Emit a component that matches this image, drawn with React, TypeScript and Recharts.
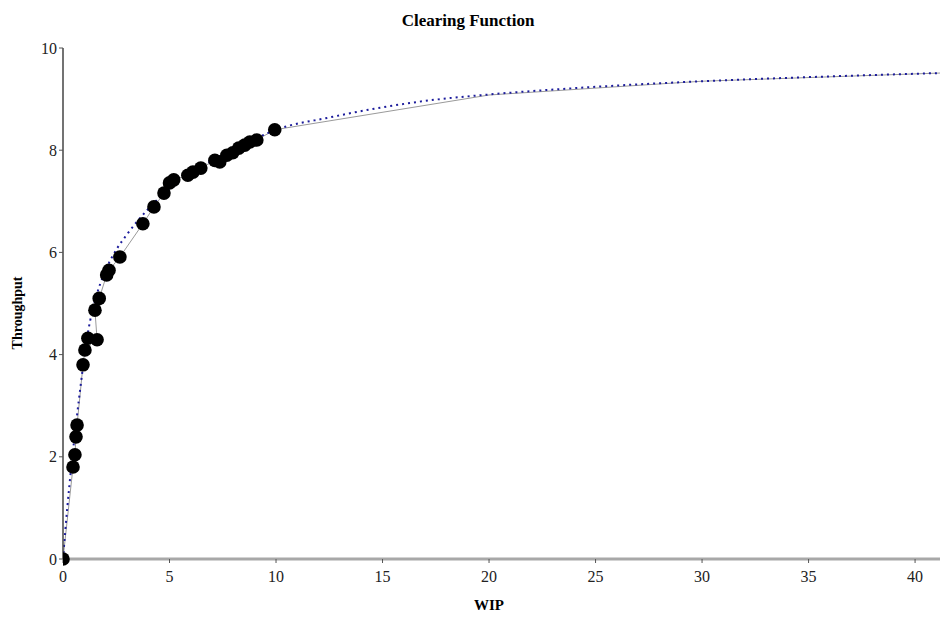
import React from "react";
import { ComposedChart, Line, Scatter, XAxis, YAxis } from "recharts";

// Observed (WIP, Throughput) points
const wip = [0, 0.47, 0.56, 0.61, 0.66, 0.94, 1.03, 1.17, 1.6, 1.5, 1.7, 2.05, 2.16, 2.67, 3.75, 4.27, 4.74, 5.0, 5.2, 5.86, 6.1, 6.47, 7.13, 7.36, 7.69, 7.97, 8.25, 8.53, 8.77, 9.1, 9.94];
const throughput = [0, 1.8, 2.04, 2.39, 2.62, 3.8, 4.09, 4.32, 4.29, 4.87, 5.1, 5.56, 5.65, 5.91, 6.56, 6.89, 7.16, 7.36, 7.42, 7.51, 7.57, 7.65, 7.8, 7.77, 7.9, 7.95, 8.04, 8.1, 8.16, 8.2, 8.4];

// Grey connecting line continues beyond the observed points
const tailWip = [20, 30, 41.17];
const tailThroughput = [9.08, 9.35, 9.51];

// Blue dotted clearing-function curve
const curveWip = [0, 0.2, 0.4, 0.6, 0.8, 1.0, 1.2, 1.5, 2.0, 2.5, 3, 4, 5, 6, 7, 8, 9, 10, 12.5, 15, 17.5, 20, 25, 30, 35, 41.17];
const curveThroughput = [0, 1.0, 1.85, 2.6, 3.3, 3.95, 4.5, 5.05, 5.65, 6.05, 6.35, 6.85, 7.25, 7.55, 7.8, 8.02, 8.22, 8.4, 8.64, 8.84, 8.99, 9.09, 9.24, 9.35, 9.43, 9.51];

const xTicks = [0, 5, 10, 15, 20, 25, 30, 35, 40];
const yTicks = [0, 2, 4, 6, 8, 10];

const observed = wip.map((x, i) => ({ x, y: throughput[i] }));
const greyLine = observed.concat(tailWip.map((x, i) => ({ x, y: tailThroughput[i] })));
const curve = curveWip.map((x, i) => ({ x, y: curveThroughput[i] }));

const FONT = "'Liberation Serif', 'Times New Roman', serif";

const Dot = (props: any) => {
  const { cx, cy } = props;
  return <circle cx={cx} cy={cy} r={6.8} fill="#000" />;
};

export default function App() {
  return (
    <div style={{ position: "absolute", left: 0, top: 0, width: 941, height: 620, background: "#fff" }}>
      <ComposedChart
        width={941}
        height={620}
        margin={{ top: 48, right: 1, bottom: 31, left: 0 }}
        style={{ fontFamily: FONT }}
      >
        <text x={468} y={26} textAnchor="middle" fontFamily={FONT} fontWeight="bold" fontSize={17} fill="#000">
          Clearing Function
        </text>
        <text
          x={22}
          y={313}
          textAnchor="middle"
          fontFamily={FONT}
          fontWeight="bold"
          fontSize={14}
          fill="#000"
          transform="rotate(-90 22 313)"
        >
          Throughput
        </text>
        <text x={489} y={610} textAnchor="middle" fontFamily={FONT} fontWeight="bold" fontSize={15} fill="#000">
          WIP
        </text>
        <XAxis
          type="number"
          dataKey="x"
          domain={[0, 41.17]}
          ticks={xTicks}
          allowDataOverflow
          height={30}
          axisLine={{ stroke: "#a8a8a8", strokeWidth: 3 }}
          tickLine={{ stroke: "#555", strokeWidth: 1 }}
          tickSize={4}
          tick={{ fill: "#222", fontSize: 16, fontFamily: FONT, dy: 6 }}
        />
        <YAxis
          type="number"
          dataKey="y"
          domain={[0, 10]}
          ticks={yTicks}
          width={63}
          axisLine={{ stroke: "#444", strokeWidth: 1.5 }}
          tickLine={{ stroke: "#555", strokeWidth: 1 }}
          tickSize={4}
          tick={{ fill: "#222", fontSize: 16, fontFamily: FONT }}
        />
        <Line
          data={greyLine}
          dataKey="y"
          type="linear"
          stroke="#9a9a9a"
          strokeWidth={1}
          dot={false}
          activeDot={false}
          isAnimationActive={false}
        />
        <Line
          data={curve}
          dataKey="y"
          type="monotone"
          stroke="#1c1c9c"
          strokeWidth={2}
          strokeDasharray="2 4"
          dot={false}
          activeDot={false}
          isAnimationActive={false}
        />
        <Scatter data={observed} dataKey="y" shape={<Dot />} isAnimationActive={false} />
      </ComposedChart>
    </div>
  );
}
